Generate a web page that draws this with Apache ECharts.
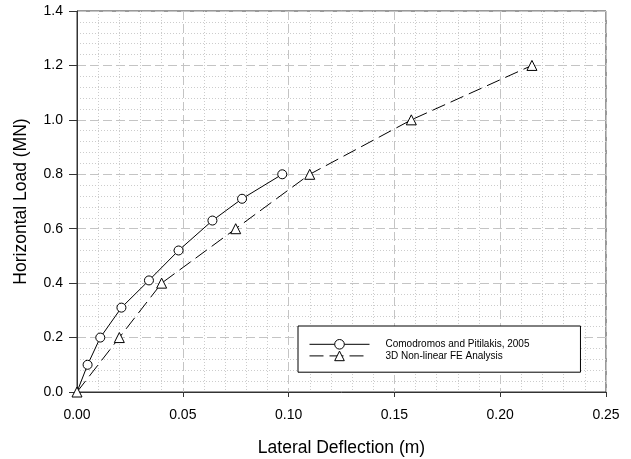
<!DOCTYPE html>
<html>
<head>
<meta charset="utf-8">
<script src="https://cdn.jsdelivr.net/npm/echarts@6/dist/echarts.min.js"></script>
<style>
html,body{margin:0;padding:0;background:#fff;}
#chart{width:631px;height:459px;}
</style>
</head>
<body>
<div id="chart"></div>
<script>
// Comodromos and Pitilakis, 2005
var comoX = [0, 0.005, 0.011, 0.021, 0.034, 0.048, 0.064, 0.078, 0.097];
var comoY = [0, 0.10, 0.20, 0.31, 0.41, 0.52, 0.63, 0.71, 0.80];
// 3D Non-linear FE Analysis
var feX = [0, 0.020, 0.040, 0.075, 0.110, 0.158, 0.215];
var feY = [0, 0.20, 0.40, 0.60, 0.80, 1.00, 1.20];
var seriesNames = ['Comodromos and Pitilakis, 2005', '3D Non-linear FE Analysis'];
var xTicks = ['0.00', '0.05', '0.10', '0.15', '0.20', '0.25'];
var yTicks = ['0.0', '0.2', '0.4', '0.6', '0.8', '1.0', '1.2', '1.4'];

var FONT = '"Liberation Sans", Arial, sans-serif';
var chart = echarts.init(document.getElementById('chart'));

function pairs(xs, ys) { return xs.map(function (x, i) { return [x, ys[i]]; }); }
var comoData = pairs(comoX, comoY).map(function (p, i) {
  return i === 0 ? { value: p, symbol: 'none' } : p;
});
var feData = pairs(feX, feY);

var gridLine = '#c4c4c4';
var option = {
  animation: false,
  backgroundColor: '#fff',
  grid: { left: 77, right: 25, top: 11, bottom: 67, show: true, borderColor: '#333', borderWidth: 1,
    backgroundColor: 'transparent', containLabel: false, outerBoundsMode: 'none' },
  xAxis: {
    type: 'value', min: 0, max: 0.25, interval: 0.05,
    name: 'Lateral Deflection (m)', nameLocation: 'middle', nameGap: 47,
    nameTextStyle: { fontFamily: FONT, fontSize: 17.5, color: '#000' },
    axisLine: { show: true, lineStyle: { color: '#333', width: 1 } },
    axisTick: { show: true, length: 5, lineStyle: { color: '#333' } },
    axisLabel: { fontFamily: FONT, fontSize: 14, color: '#000', margin: 16,
      formatter: function (v) { return xTicks[Math.round(v / 0.05)]; } },
    splitLine: { show: true, lineStyle: { color: gridLine, type: [9, 4], width: 1 } },
    minorTick: { show: false, splitNumber: 5 },
    minorSplitLine: { show: true, lineStyle: { color: '#cccccc', type: [1, 2], width: 1 } }
  },
  yAxis: {
    type: 'value', min: 0, max: 1.4, interval: 0.2,
    name: 'Horizontal Load (MN)', nameLocation: 'middle', nameGap: 47,
    nameTextStyle: { fontFamily: FONT, fontSize: 17.5, color: '#000' },
    axisLine: { show: true, lineStyle: { color: '#333', width: 1 } },
    axisTick: { show: true, length: 8, lineStyle: { color: '#333' } },
    axisLabel: { fontFamily: FONT, fontSize: 14, color: '#000', margin: 14,
      formatter: function (v) { return yTicks[Math.round(v / 0.2)]; } },
    splitLine: { show: true, lineStyle: { color: gridLine, type: [9, 4], width: 1 } },
    minorTick: { show: false, splitNumber: 5 },
    minorSplitLine: { show: true, lineStyle: { color: '#cccccc', type: [1, 2], width: 1 } }
  },
  legend: {
    show: true, orient: 'vertical', left: 298, top: 326,
    padding: [13, 51, 11, 11],
    backgroundColor: '#fff', borderColor: '#000', borderWidth: 1, borderRadius: 0,
    itemWidth: 60, itemHeight: 12, itemGap: 1,
    lineStyle: { width: 1 },
    itemStyle: { borderWidth: 1 },
    textStyle: { fontFamily: FONT, fontSize: 10, color: '#000', padding: [0, 0, 0, 11] },
    data: seriesNames
  },
  series: [
    {
      name: seriesNames[0], type: 'line', data: comoData,
      symbol: 'circle', symbolSize: 9,
      lineStyle: { color: '#000', width: 1 },
      itemStyle: { color: '#fff', borderColor: '#000', borderWidth: 1 },
      z: 3
    },
    {
      name: seriesNames[1], type: 'line', data: feData,
      symbol: 'triangle', symbolSize: 10,
      lineStyle: { color: '#000', width: 1, type: [14, 6] },
      itemStyle: { color: '#fff', borderColor: '#000', borderWidth: 1 },
      z: 4
    }
  ]
};
chart.setOption(option);
</script>
</body>
</html>
